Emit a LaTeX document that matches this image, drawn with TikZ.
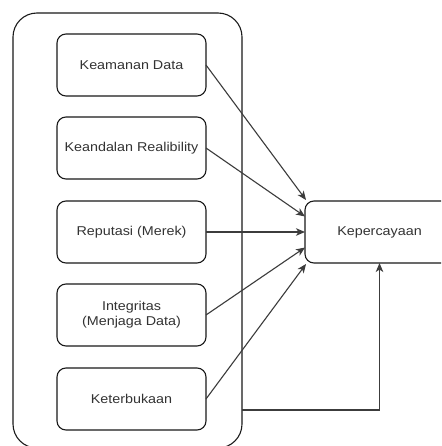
\documentclass[tikz,border=0pt]{standalone}
\usepackage{fontspec}
\newfontfamily\labfont[FakeStretch=1.12]{Liberation Sans}
\usetikzlibrary{arrows.meta,calc}
\definecolor{txt}{HTML}{333333}
\definecolor{ln}{HTML}{1A1A1A}
\tikzset{
  box/.style={draw=ln, line width=1.1pt, rounded corners=9pt, minimum width=149pt, minimum height=62pt, inner sep=0pt, outer sep=0pt, align=center, text=txt, font=\labfont\fontsize{12.8pt}{15pt}\selectfont},
  conn/.style={draw=ln!85!white, line width=1.1pt, -{Stealth[length=9pt,width=7.5pt,inset=2.5pt]}},
  plainline/.style={draw=ln, line width=1.1pt}
}
\begin{document}
\begin{tikzpicture}[x=1pt,y=-1pt]
\clip (0,0) rectangle (441,446);
\fill[white] (0,0) rectangle (441,446);
\node[draw=ln, line width=1.1pt, rounded corners=24pt, minimum width=229pt, minimum height=435pt, inner sep=0pt, outer sep=0pt] (outer) at (127.5,230.5) {};
\node[box] (b1) at (131.5,65) {Keamanan Data};
\node[box] (b2) at (131.5,148) {Keandalan Realibility};
\node[box] (b3) at (131.5,232) {Reputasi (Merek)};
\node[box] (b4) at (131.5,315) {Integritas\\(Menjaga Data)};
\node[box] (b5) at (131.5,399) {Keterbukaan};
\node[box] (kep) at (379.5,232) {Kepercayaan};
\coordinate (e1) at ($(kep.north west)!0!(kep.south west)+(1,-1)$);
\coordinate (e2) at ($(kep.north west)!0.25!(kep.south west)$);
\coordinate (e3) at ($(kep.north west)!0.5!(kep.south west)$);
\coordinate (e4) at ($(kep.north west)!0.75!(kep.south west)$);
\coordinate (e5) at ($(kep.north west)!1!(kep.south west)+(1,1)$);
\draw[conn] (b1.east) -- (e1);
\draw[conn] (b2.east) -- (e2);
\draw[conn] (b3.east) -- (e3);
\draw[conn] (b4.east) -- (e4);
\draw[conn] (b5.east) -- (e5);
\coordinate (fy) at (0,410);
\draw[conn] (outer.east |- fy) -| (kep.south);
\end{tikzpicture}
\end{document}
